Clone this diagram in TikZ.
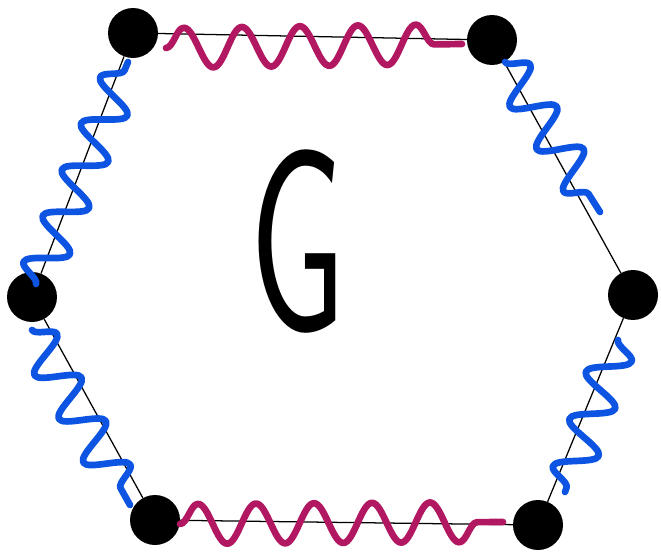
\documentclass[tikz,border=0pt]{standalone}
\usetikzlibrary{decorations.pathmorphing}
\definecolor{rungpink}{RGB}{178,24,98}
\definecolor{sideblue}{RGB}{14,84,226}

\begin{document}
\begin{tikzpicture}[x=0.05cm, y=-0.05cm,
  vtx/.style={circle, fill=black, minimum size=2.5cm, inner sep=0pt},
  rim/.style={draw, line width=1.8pt},
  wave/.style={line width=9.5pt, line cap=round, line join=round, decorate,
               decoration={snake, segment length=#1, amplitude=1cm}},
  rung/.style={draw=rungpink, wave=2.9cm},
  side/.style={draw=sideblue, wave=2.5cm},
  letter/.style={inner sep=0pt, font=\sffamily}
]
  \useasboundingbox (0,0) rectangle (661,556);

  \node[vtx] (TL) at (133,33)  {};
  \node[vtx] (TR) at (492,40)  {};
  \node[vtx] (R)  at (633,295) {};
  \node[vtx] (BR) at (538,525) {};
  \node[vtx] (BL) at (155,520) {};
  \node[vtx] (L)  at (32,297)  {};

  \draw[rim] (TL) -- (TR) -- (R) -- (BR) -- (BL) -- (L) -- (TL);

  \coordinate (t1) at (166,48);  \coordinate (t2) at (462,44);
  \coordinate (b1) at (180,524); \coordinate (b2) at (503,522);
  \coordinate (l1) at (36,284);  \coordinate (l2) at (128,62);
  \coordinate (l3) at (32,330);  \coordinate (l4) at (130,505);
  \coordinate (r1) at (505,62);  \coordinate (r2) at (600,212);
  \coordinate (r3) at (618,340); \coordinate (r4) at (565,492);

  \draw[rung] (t1) -- (t2);
  \draw[rung] (b1) -- (b2);
  \draw[side] (l1) -- (l2);
  \draw[side] (l3) -- (l4);
  \draw[side] (r1) -- (r2);
  \draw[side] (r3) -- (r4);

  \node[letter] (G) at (298,242) {\resizebox{4.8cm}{9cm}{G}};
\end{tikzpicture}
\end{document}
